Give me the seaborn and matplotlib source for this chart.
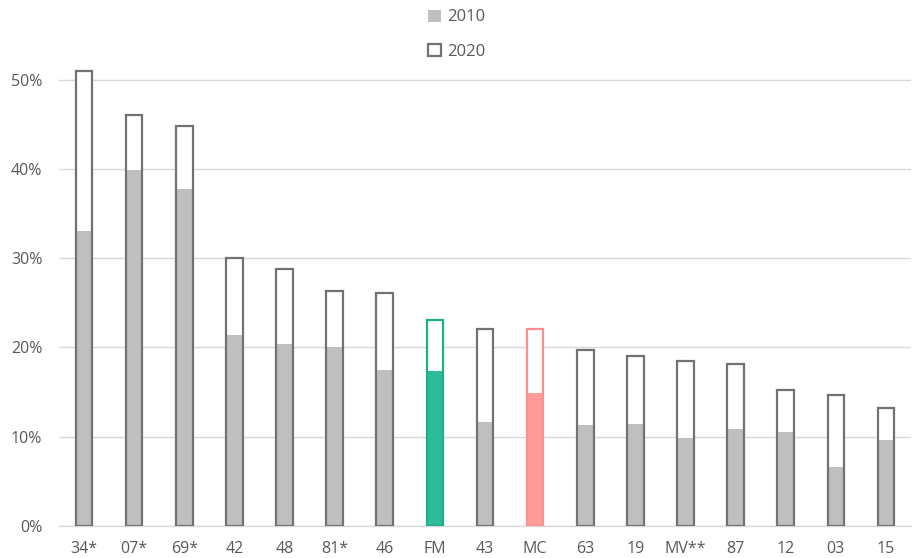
import numpy as np
import pandas as pd
import matplotlib
matplotlib.use("Agg")
import matplotlib.pyplot as plt
from matplotlib.patches import Patch
from matplotlib.ticker import PercentFormatter
import seaborn as sns

labels = ["34*", "07*", "69*", "42", "48", "81*", "46", "FM", "43", "MC",
          "63", "19", "MV**", "87", "12", "03", "15"]
v2010 = [33.0, 39.9, 37.8, 21.4, 20.4, 20.1, 17.5, 17.4, 11.7, 14.9,
         11.3, 11.4, 9.9, 10.9, 10.5, 6.6, 9.6]
v2020 = [51.0, 46.0, 44.8, 30.0, 28.8, 26.3, 26.1, 23.1, 22.1, 22.1,
         19.7, 19.1, 18.5, 18.1, 15.2, 14.7, 13.2]

grey_fill = "#bfbfbf"
grey_edge = "#767171"
fill_colors = {l: grey_fill for l in labels}
fill_colors["FM"] = "#2dbb9a"
fill_colors["MC"] = "#ff9b9b"
edge_colors = {l: grey_edge for l in labels}
edge_colors["FM"] = "#1fae8c"
edge_colors["MC"] = "#ff8f8f"

df = pd.DataFrame({"label": labels, "y2010": np.array(v2010) / 100,
                   "y2020": np.array(v2020) / 100})

sns.set_style("white")
plt.rcParams["font.family"] = ["Open Sans", "DejaVu Sans"]
text_col = "#595959"

fig = plt.figure(figsize=(9.14, 5.58), dpi=100)
ax = fig.add_axes([59 / 914, 32 / 558, 852 / 914, 490 / 558])

# white body of 2020 bars
sns.barplot(data=df, x="label", y="y2020", color="white", width=0.33,
            linewidth=0, saturation=1, ax=ax, zorder=2)
# 2010 filled part
sns.barplot(data=df, x="label", y="y2010", hue="label", palette=fill_colors,
            width=0.33, linewidth=0, saturation=1, legend=False, ax=ax, zorder=3)
n2 = len(ax.patches)
# outline of 2020 bars
sns.barplot(data=df, x="label", y="y2020", color="white", width=0.33,
            saturation=1, ax=ax, zorder=4)
for p, lab in zip(ax.patches[n2:], labels):
    p.set_facecolor("none")
    p.set_edgecolor(edge_colors[lab])
    p.set_linewidth(1.6)

ax.set_xlim(-0.5, len(labels) - 0.5)
ax.set_ylim(0, 0.549)
ax.set_yticks(np.arange(0, 0.51, 0.1))
ax.yaxis.set_major_formatter(PercentFormatter(1.0, decimals=0))
ax.grid(axis="y", color="#d9d9d9", linewidth=1, zorder=0)
ax.set_axisbelow(True)
for s in ["top", "right", "left"]:
    ax.spines[s].set_visible(False)
ax.spines["bottom"].set_color("#d9d9d9")
ax.spines["bottom"].set_linewidth(1)
ax.tick_params(axis="both", length=0, labelsize=11.5, labelcolor=text_col)
ax.tick_params(axis="x", pad=11)
ax.tick_params(axis="y", pad=12)
ax.set_xlabel("")
ax.set_ylabel("")

handles = [Patch(facecolor=grey_fill, edgecolor="none", label="2010"),
           Patch(facecolor="white", edgecolor=grey_edge, linewidth=1.6, label="2020")]
fig.legend(handles=handles, loc="upper center", bbox_to_anchor=(0.5, 1.01),
           frameon=False, fontsize=12, labelcolor=text_col,
           handlelength=0.75, handleheight=0.75, handletextpad=0.4,
           labelspacing=1.1)

fig.savefig("out.png", dpi=100)
